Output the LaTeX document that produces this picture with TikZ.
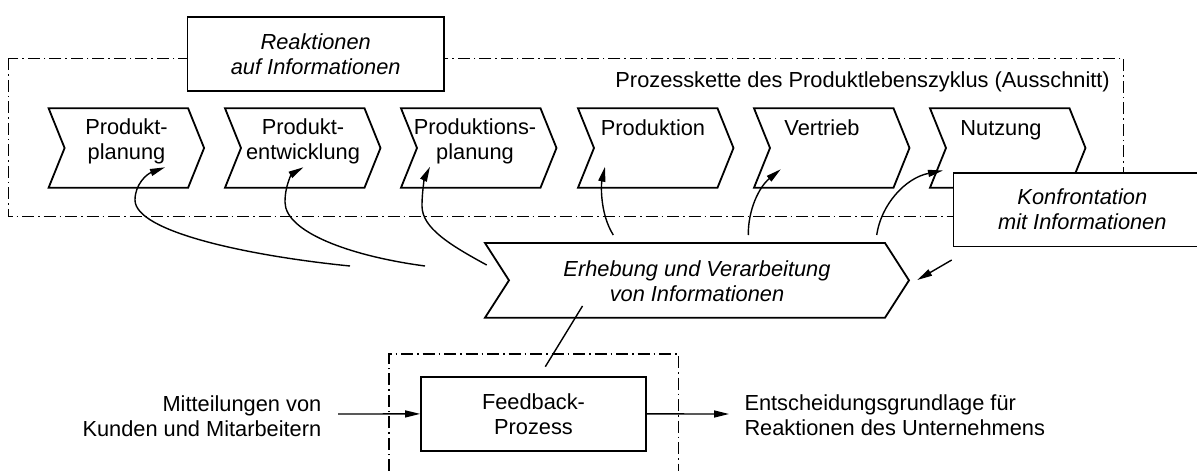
\documentclass[tikz,border=0pt]{standalone}
\usepackage{fontspec}
\setmainfont{Liberation Sans}
\usetikzlibrary{arrows.meta}

\begin{document}
\begin{tikzpicture}[x=1pt,y=-1pt,
    every node/.style={font=\fontsize{21.8}{25}\selectfont, inner sep=0pt},
    kursiv/.style={font=\fontsize{21.8}{25}\selectfont\itshape},
    strichpunkt/.style={line width=1.2pt, dash pattern=on 12pt off 4pt on 1.5pt off 4pt},
    kasten/.style={draw, line width=1.8pt, fill=white},
    pfeil/.style={line width=1.4pt, -{Triangle[length=15pt,width=7pt]}}]

    \useasboundingbox (0,0) rectangle (1197,471);
    \clip (0,0) rectangle (1197,471);

    % Prozesskette
    \draw[strichpunkt] (8.4,58.3) rectangle (1123.5,216.7);
    \node[anchor=base east] (kette) at (1110,87.5) {Prozesskette des Produktlebenszyklus (Ausschnitt)};

    \draw[kasten] (48.6,108.3) -- ++(139.5,0) -- ++(16,39.7) -- ++(-16,39.7) -- ++(-139.5,0) -- ++(16,-39.7) -- cycle;
    \draw[kasten] (225,108.3) -- ++(139.5,0) -- ++(16,39.7) -- ++(-16,39.7) -- ++(-139.5,0) -- ++(16,-39.7) -- cycle;
    \draw[kasten] (401,108.3) -- ++(139.5,0) -- ++(16,39.7) -- ++(-16,39.7) -- ++(-139.5,0) -- ++(16,-39.7) -- cycle;
    \draw[kasten] (578,108.3) -- ++(139.5,0) -- ++(16,39.7) -- ++(-16,39.7) -- ++(-139.5,0) -- ++(16,-39.7) -- cycle;
    \draw[kasten] (754,108.3) -- ++(139.5,0) -- ++(16,39.7) -- ++(-16,39.7) -- ++(-139.5,0) -- ++(16,-39.7) -- cycle;
    \draw[kasten] (930,108.3) -- ++(139.5,0) -- ++(16,39.7) -- ++(-16,39.7) -- ++(-139.5,0) -- ++(16,-39.7) -- cycle;

    \node[align=center] (plan) at (126.5,141.8) {Produkt-\\planung};
    \node[align=center] (entw) at (303,141.8) {Produkt-\\entwicklung};
    \node[align=center] (prodplan) at (475,141.8) {Produktions-\\planung};
    \node[anchor=base] (prod) at (653,135) {Produktion};
    \node[anchor=base] (vertr) at (822,135) {Vertrieb};
    \node[anchor=base] (nutz) at (1001,135) {Nutzung};

    \node[kasten, kursiv, align=center, minimum width=256.5pt, minimum height=73.4pt] (reakt) at (315.7,54) {Reaktionen\\auf Informationen};
    \node[kasten, kursiv, align=center, minimum width=257.5pt, minimum height=73.8pt] (konfr) at (1082.3,209.6) {Konfrontation\\mit Informationen};

    % Erhebung
    \draw[kasten] (485,243) -- (885,243) -- (909,280.35) -- (885,317.7) -- (485,317.7) -- (509,280.35) -- cycle;
    \node[kursiv, align=center] (erheb) at (697,281.3) {Erhebung und Verarbeitung\\von Informationen};

    % Rueckfuehrung in die Kette
    \coordinate (a1) at (350,266);
    \coordinate (z1) at (165,167.3);
    \coordinate (a2) at (425,266);
    \coordinate (z2) at (303.3,167.3);
    \coordinate (a3) at (486.7,265);
    \coordinate (z3) at (430,166.7);
    \coordinate (a4) at (613.3,235);
    \coordinate (z4) at (605,166.7);
    \coordinate (a5) at (748.3,235);
    \coordinate (z5) at (780.7,169.3);
    \coordinate (a6) at (876.7,235);
    \coordinate (z6) at (943,170.5);

    \draw[pfeil] (a1) .. controls (250,256) and (135,232) .. (135,200) .. controls (135,184) and (147,174) .. (z1);
    \draw[pfeil] (a2) .. controls (350,256) and (285,232) .. (285,202) .. controls (285,185) and (292,174) .. (z2);
    \draw[pfeil] (a3) .. controls (450,245) and (422,228) .. (422,206) .. controls (422,190) and (425,177) .. (z3);
    \draw[pfeil] (a4) .. controls (600,214) and (601,185) .. (z4);
    \draw[pfeil] (a5) .. controls (748,210) and (759,187) .. (z5);
    \draw[pfeil] (a6) .. controls (881,205) and (905,178) .. (z6);

    \coordinate (k1) at (951.7,260);
    \coordinate (k2) at (917.3,280);
    \draw[pfeil] (k1) -- (k2);

    % Feedback-Prozess
    \draw[strichpunkt] (389,471) -- (389,354) -- (678.5,354) -- (678.5,471);
    \node[kasten, align=center, minimum width=225pt, minimum height=74.3pt] (fb) at (533.5,413.9) {Feedback-\\Prozess};

    \coordinate (v1) at (582.5,306);
    \coordinate (v2) at (545.3,366.7);
    \draw[line width=1.4pt] (v1) -- (v2);

    \node[align=right, anchor=east] (mitt) at (321.5,415.8) {Mitteilungen von\\Kunden und Mitarbeitern};
    \coordinate (ein) at (338,414);
    \draw[pfeil] (ein) -- (fb.west);

    \coordinate (aus) at (729,414);
    \draw[pfeil] (fb.east) -- (aus);
    \node[align=left, anchor=west] (entsch) at (744.3,415.5) {Entscheidungsgrundlage für\\Reaktionen des Unternehmens};

\end{tikzpicture}
\end{document}
